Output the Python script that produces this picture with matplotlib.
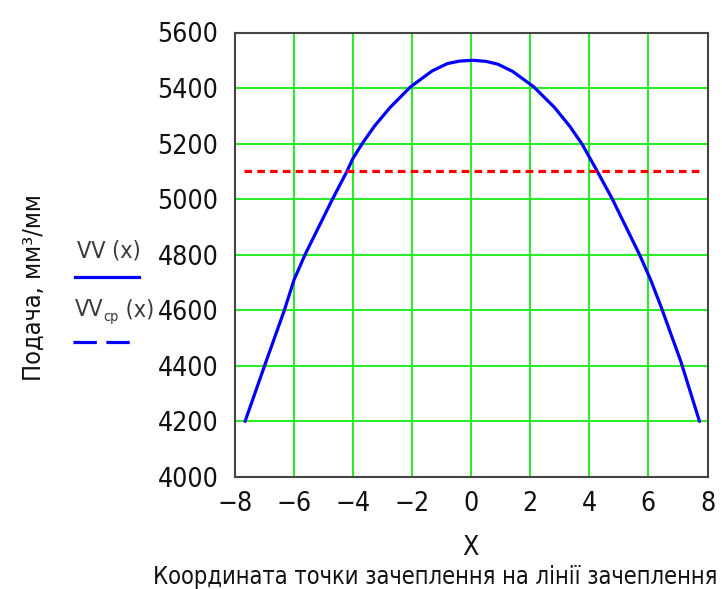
import matplotlib
matplotlib.use("Agg")
import matplotlib.pyplot as plt
from matplotlib import font_manager
from matplotlib.font_manager import FontProperties
from matplotlib.lines import Line2D

# ---- data ----
x_vals = [-7.66, -7.0, -6.33, -6.0, -5.63, -4.70, -4.21, -4.0, -3.68, -3.27,
          -2.75, -2.05, -1.32, -0.81, -0.4, 0.05, 0.5, 0.9, 1.4, 2.11, 2.82,
          3.34, 3.76, 4.07, 4.28, 4.77, 5.70, 6.07, 6.42, 7.1, 7.73]
vv_vals = [4200, 4400, 4600, 4710, 4800, 5000, 5100, 5148, 5202, 5264,
           5330, 5405, 5462, 5488, 5497, 5500, 5496, 5486, 5460, 5405, 5330,
           5262, 5197, 5138, 5098, 5002, 4800, 4711, 4615, 4415, 4200]
avg_x = [-7.7, 7.73]
avg_vals = [5100, 5100]

x_ticks = [-8, -6, -4, -2, 0, 2, 4, 6, 8]
y_ticks = [4000, 4200, 4400, 4600, 4800, 5000, 5200, 5400, 5600]
x_tick_labels = ["\u22128", "\u22126", "\u22124", "\u22122", "0", "2", "4", "6", "8"]

ylabel_text = "Подача, мм³/мм"
xlabel_text = "X"
xcaption_text = "Координата точки зачеплення на лінії зачеплення"
legend_names = ["VV (x)", "VV", "cp", " (x)"]

# ---- pick a narrow font if one is installed ----
fpath = None
entries = font_manager.fontManager.ttflist
prefs = [
    lambda f: f.name == "Liberation Sans Narrow" and f.weight in (400, "normal") and f.style == "normal",
    lambda f: "Condensed" in f.fname and "DejaVuSans" in f.fname.replace(" ", "") and "Bold" not in f.fname and "Oblique" not in f.fname,
    lambda f: ("Condensed" in f.name or "Narrow" in f.name) and f.style == "normal" and f.weight in (400, "normal"),
    lambda f: f.stretch in ("condensed", "semi-condensed") and f.style == "normal" and f.weight in (400, "normal"),
]
for p in prefs:
    for f in entries:
        try:
            ok = p(f)
        except Exception:
            ok = False
        if ok:
            fpath = f.fname
            break
    if fpath:
        break
if fpath:
    base_fp = lambda size: FontProperties(fname=fpath, size=size)
else:
    base_fp = lambda size: FontProperties(family="DejaVu Sans", size=size)

fig = plt.figure(figsize=(7.22, 5.89), dpi=100)
W, H = 722, 589
renderer = fig.canvas.get_renderer()


def fit_size(text, target_px, max_size):
    t = fig.text(0, 0, text, fontproperties=base_fp(max_size))
    w = t.get_window_extent(renderer=renderer).width
    t.remove()
    return min(max_size, max_size * target_px / w)


tick_size = fit_size("5600", 61, 21)
cap_size = fit_size(xcaption_text, 568, 20)
ylab_size = fit_size(ylabel_text, 188, 21)
leg_size = fit_size(legend_names[0], 64, 20)

ax = fig.add_axes([235 / W, 1 - 477 / H, (707.5 - 235) / W, (477 - 32.5) / H])

ax.plot(x_vals, vv_vals, color="#0000ff", lw=2.3, solid_capstyle="round",
        solid_joinstyle="round", zorder=3)
ax.plot(avg_x, avg_vals, color="#ff0000", lw=2.3, linestyle=(0, (2.4, 1.6)), zorder=3)

ax.set_xlim(-8, 8)
ax.set_ylim(4000, 5600)
ax.set_xticks(x_ticks)
ax.set_xticklabels(x_tick_labels)
ax.set_yticks(y_ticks)
ax.grid(True, color="#22ee22", lw=1.4, zorder=1)
ax.set_axisbelow(True)
ax.tick_params(length=0, colors="#111111")
ax.tick_params(axis="x", pad=10)
ax.tick_params(axis="y", pad=12)
for lab in ax.get_xticklabels() + ax.get_yticklabels():
    lab.set_fontproperties(base_fp(tick_size))
for s in ax.spines.values():
    s.set_color("#444444")
    s.set_linewidth(1.5)

# axis titles
fig.text(34 / W, 1 - 288 / H, ylabel_text, rotation=90, ha="center", va="center",
         fontproperties=base_fp(ylab_size), color="#111111")
fig.text(470 / W, 1 - 548 / H, xlabel_text, ha="center", va="center",
         fontproperties=base_fp(tick_size), color="#111111")
fig.text(717 / W, 1 - 577 / H, xcaption_text, ha="right", va="center",
         fontproperties=base_fp(cap_size), color="#111111")

# legend (text above line sample)
fig.text(77 / W, 1 - 251 / H, legend_names[0], ha="left", va="center",
         fontproperties=base_fp(leg_size), color="#3a3a3a")
fig.add_artist(Line2D([75 / W, 139 / W], [1 - 277 / H, 1 - 277 / H],
                      transform=fig.transFigure, color="#0000ff", lw=2.3))
t1 = fig.text(75 / W, 1 - 310 / H, legend_names[1], ha="left", va="center",
              fontproperties=base_fp(leg_size), color="#3a3a3a")
bb = t1.get_window_extent(renderer=renderer)
t2 = fig.text(bb.x1 / W, 1 - 317 / H, legend_names[2], ha="left", va="center",
              fontproperties=base_fp(leg_size * 0.62), color="#3a3a3a")
bb2 = t2.get_window_extent(renderer=renderer)
fig.text(bb2.x1 / W, 1 - 310 / H, legend_names[3], ha="left", va="center",
         fontproperties=base_fp(leg_size), color="#3a3a3a")
fig.add_artist(Line2D([73 / W, 137 / W], [1 - 342 / H, 1 - 342 / H],
                      transform=fig.transFigure, color="#0000ff", lw=2.3,
                      linestyle=(0, (7.3, 3.0))))

fig.savefig("out.png", dpi=100)
